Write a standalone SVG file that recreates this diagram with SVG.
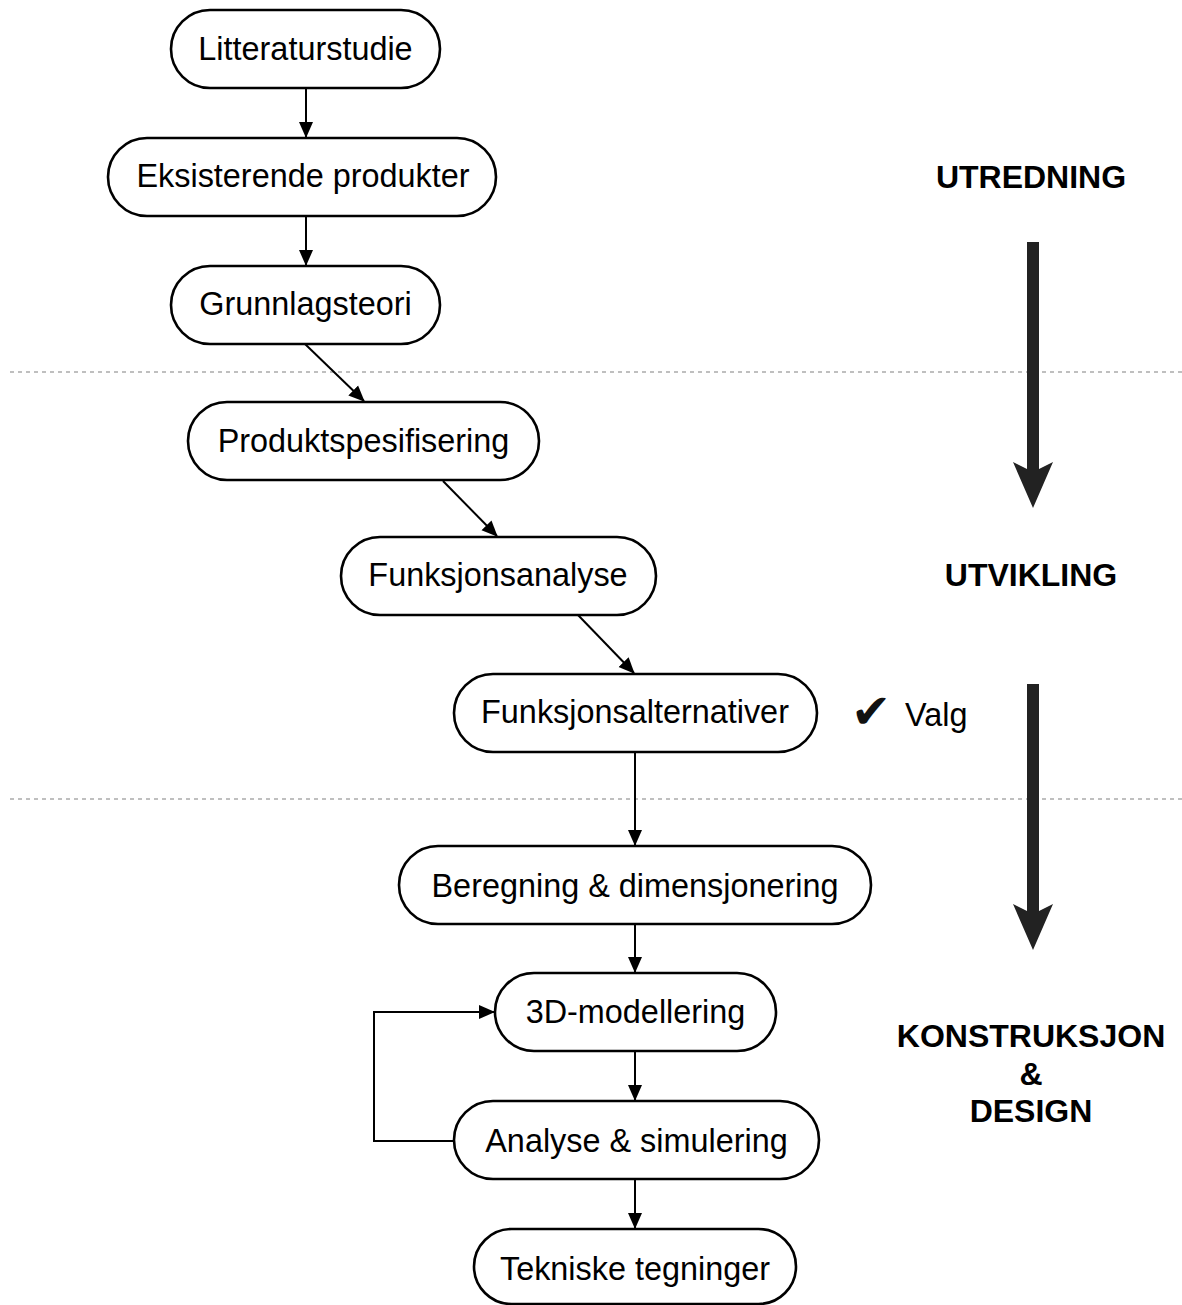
<svg xmlns="http://www.w3.org/2000/svg" width="1182" height="1305" viewBox="0 0 1182 1305">
<style>
.n{fill:#fff;stroke:#000;stroke-width:2.6}
.t{font-family:"Liberation Sans",Arial,sans-serif;font-size:32.4px;fill:#000;text-anchor:middle}
.h{font-family:"Liberation Sans",Arial,sans-serif;font-size:32px;font-weight:bold;fill:#000;text-anchor:middle}
.c{fill:none;stroke:#000;stroke-width:2}
.d{stroke:#aaa;stroke-width:1.5;stroke-dasharray:4 4}
.big{fill:#222}
</style>
<defs>
<marker id="ah" markerUnits="userSpaceOnUse" markerWidth="16" markerHeight="16" viewBox="0 0 16 16" refX="15" refY="8" orient="auto">
<path d="M0,1 L16,8 L0,15 Z" fill="#000"/>
</marker>
</defs>
<g id="separators">
<line class="d" x1="10" y1="372" x2="1182" y2="372"/>
<line class="d" x1="10" y1="799" x2="1182" y2="799"/>
</g>
<g id="connectors">
<line class="c" x1="306" y1="88" x2="306" y2="137" marker-end="url(#ah)"/>
<line class="c" x1="306" y1="216" x2="306" y2="265" marker-end="url(#ah)"/>
<line class="c" x1="305" y1="344" x2="364" y2="401" marker-end="url(#ah)"/>
<line class="c" x1="443" y1="481" x2="497" y2="536" marker-end="url(#ah)"/>
<line class="c" x1="578" y1="615" x2="634" y2="673" marker-end="url(#ah)"/>
<line class="c" x1="635" y1="752" x2="635" y2="845" marker-end="url(#ah)"/>
<line class="c" x1="635" y1="924" x2="635" y2="972" marker-end="url(#ah)"/>
<line class="c" x1="635" y1="1051" x2="635" y2="1100" marker-end="url(#ah)"/>
<line class="c" x1="635" y1="1179" x2="635" y2="1228" marker-end="url(#ah)"/>
<polyline class="c" points="454,1141 374,1141 374,1012 494,1012" marker-end="url(#ah)"/>
</g>
<g id="n1"><rect class="n" x="171" y="10" width="269" height="78" rx="39"/><text class="t" x="305.5" y="60">Litteraturstudie</text></g>
<g id="n2"><rect class="n" x="108" y="138" width="388" height="78" rx="39"/><text class="t" x="303" y="187">Eksisterende produkter</text></g>
<g id="n3"><rect class="n" x="171" y="266" width="269" height="78" rx="39"/><text class="t" x="305.5" y="315">Grunnlagsteori</text></g>
<g id="n4"><rect class="n" x="188" y="402" width="351" height="78" rx="39"/><text class="t" x="363.5" y="452">Produktspesifisering</text></g>
<g id="n5"><rect class="n" x="341" y="537" width="315" height="78" rx="39"/><text class="t" x="498" y="586">Funksjonsanalyse</text></g>
<g id="n6"><rect class="n" x="454" y="674" width="363" height="78" rx="39"/><text class="t" x="635" y="723">Funksjonsalternativer</text></g>
<g id="n7"><rect class="n" x="399" y="846" width="472" height="78" rx="39"/><text class="t" x="635" y="897">Beregning &amp; dimensjonering</text></g>
<g id="n8"><rect class="n" x="495" y="973" width="281" height="78" rx="39"/><text class="t" x="635.5" y="1023">3D-modellering</text></g>
<g id="n9"><rect class="n" x="454" y="1101" width="365" height="78" rx="39"/><text class="t" x="636.5" y="1152">Analyse &amp; simulering</text></g>
<g id="n10"><rect class="n" x="474" y="1229" width="322" height="75" rx="37.5"/><text class="t" x="635" y="1280">Tekniske tegninger</text></g>
<g id="phases">
<text class="h" x="1031" y="188">UTREDNING</text>
<text class="h" x="1031" y="586">UTVIKLING</text>
<text class="h" x="1031" y="1047">KONSTRUKSJON</text>
<text class="h" x="1031" y="1085">&amp;</text>
<text class="h" x="1031" y="1122">DESIGN</text>
<path class="big" d="M1027,242 L1039,242 L1039,469 L1053,462 L1033,508 L1013,462 L1027,469 Z"/>
<path class="big" d="M1027,684 L1039,684 L1039,911 L1053,904 L1033,950 L1013,904 L1027,911 Z"/>
</g>
<g id="valg">
<text x="871" y="728" style="font-family:'DejaVu Sans',sans-serif;font-size:48px;fill:#111;text-anchor:middle">✔</text>
<text x="905" y="726" style="font-family:'Liberation Sans',Arial,sans-serif;font-size:32.4px;fill:#000">Valg</text>
</g>
</svg>
